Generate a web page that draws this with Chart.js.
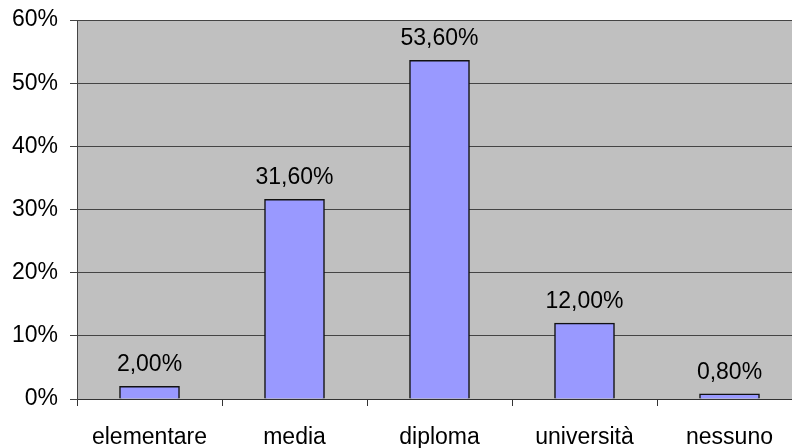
<!DOCTYPE html>
<html>
<head>
<meta charset="utf-8">
<script src="https://cdn.jsdelivr.net/npm/chart.js@4"></script>
<style>
  html, body { margin: 0; padding: 0; background: #fff; overflow: hidden; }
  #wrap { width: 792px; height: 448px; overflow: hidden; }
  #box { width: 802px; height: 448px; position: relative; }
</style>
</head>
<body>
<div id="wrap"><div id="box"><canvas id="chart"></canvas></div></div>
<script>
var categories = ["elementare", "media", "diploma", "università", "nessuno"];
var percentages = [2.0, 31.6, 53.6, 12.0, 0.8];
var yTicks = [0, 10, 20, 30, 40, 50, 60];

const FONT = "'Liberation Sans', Arial, sans-serif";

function formatPct(v) {
	return v.toFixed(2).replace(".", ",") + "%";
}

//* gray plot area behind the bars
const plotBackground = {
	id: "plotBackground",
	beforeDraw(chart) {
		const { ctx, chartArea } = chart;
		ctx.save();
		ctx.fillStyle = "#c0c0c0";
		ctx.fillRect(chartArea.left, chartArea.top, chartArea.right - chartArea.left, chartArea.bottom - chartArea.top);
		ctx.restore();
	},
};

//* value labels above each bar
const barLabels = {
	id: "barLabels",
	afterDatasetsDraw(chart) {
		const { ctx } = chart;
		const meta = chart.getDatasetMeta(0);
		ctx.save();
		ctx.font = "23px " + FONT;
		ctx.fillStyle = "#000";
		ctx.textAlign = "center";
		ctx.textBaseline = "alphabetic";
		meta.data.forEach(function (bar, i) {
			ctx.fillText(formatPct(percentages[i]), bar.x, bar.y - 15);
		});
		ctx.restore();
	},
};

const config = {
	type: "bar",
	data: {
		labels: categories,
		datasets: [
			{
				data: percentages,
				backgroundColor: "#9999ff",
				borderColor: "#111",
				borderWidth: 1.5,
				barThickness: 60,
			},
		],
	},
	options: {
		responsive: true,
		maintainAspectRatio: false,
		animation: false,
		layout: {
			padding: { top: 20, right: 0, left: 0, bottom: 0 },
		},
		plugins: {
			legend: { display: false },
			tooltip: { enabled: false },
		},
		scales: {
			x: {
				offset: true,
				grid: {
					offset: true,
					drawOnChartArea: false,
					drawTicks: true,
					tickLength: 7,
					color: "#333",
				},
				border: { color: "#333", width: 1 },
				ticks: {
					color: "#000",
					font: { family: FONT, size: 23 },
					padding: 18,
					maxRotation: 0,
					autoSkip: false,
				},
				afterFit(scale) {
					scale.height = 49;
				},
			},
			y: {
				min: 0,
				max: 60,
				afterBuildTicks(scale) {
					scale.ticks = yTicks.map((v) => ({ value: v }));
				},
				grid: {
					color: "#444",
					tickLength: 7,
					lineWidth: 1,
				},
				border: { color: "#444", width: 1 },
				ticks: {
					color: "#000",
					font: { family: FONT, size: 23 },
					padding: 12,
					callback: (v) => v + "%",
				},
				afterFit(scale) {
					scale.width = 77;
					//* top label may overhang; the layout padding handles it
					scale.paddingTop = 0;
					scale.paddingBottom = 0;
				},
			},
		},
	},
	plugins: [plotBackground, barLabels],
};

new Chart(document.getElementById("chart"), config);
</script>
</body>
</html>
